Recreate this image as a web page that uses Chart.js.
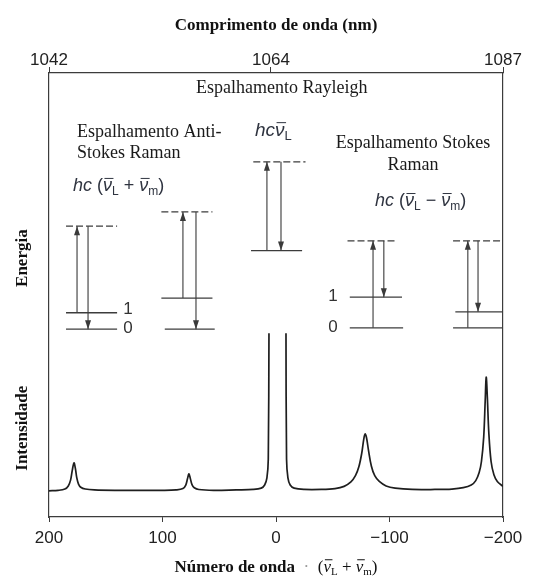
<!DOCTYPE html>
<html>
<head>
<meta charset="utf-8">
<script src="https://cdn.jsdelivr.net/npm/chart.js@4.4.1/dist/chart.umd.min.js"></script>
<style>
  body { margin: 0; background: #fff; }
  #wrap { width: 534px; height: 576px; }
</style>
</head>
<body>
<div id="wrap"><canvas id="ramanChart" width="534" height="576"></canvas></div>
<script>
// tick labels
const waveNumberTicks = [200, 100, 0, -100, -200];
const wavelengthTicks = [1042, 1064, 1087];

// spectrum (wavenumber shift, intensity) - null breaks the clipped Rayleigh line
const specX = [200, 192, 186, 183, 181, 179.5, 178, 176.8, 175.5, 174, 172, 168, 160, 140, 120,
  100, 88, 82, 79.5, 78, 76.8, 75.6, 74, 72, 68, 55, 35, 20, 13, 10, 8, 6.8, 6.2,
  0,
  -8.8, -9.3, -10.5, -12.5, -16, -25, -40, -52, -60, -66, -70, -73, -75.5, -77.3, -78.5,
  -79.8, -81.5, -84, -87, -91, -97, -105, -120, -140, -155, -165, -172, -176, -179, -181,
  -183, -184.3, -185.2, -186.2, -187.5, -189.5, -192, -195, -200];
const specY = [5.9, 6.0, 6.3, 7.0, 8.3, 10.5, 12.2, 11.0, 8.8, 7.4, 6.7, 6.3, 6.1, 6.0, 6.0,
  6.0, 6.1, 6.4, 7.2, 8.6, 9.7, 8.8, 7.3, 6.6, 6.2, 6.0, 6.1, 6.2, 6.5, 7.2, 8.8, 13, 41.4,
  null,
  41.4, 13, 8.8, 7.2, 6.5, 6.2, 6.2, 6.4, 6.9, 7.9, 9.3, 11.3, 14.3, 17.5, 18.7,
  17.8, 15, 11.5, 9.3, 8.0, 7.0, 6.5, 6.2, 6.2, 6.3, 6.6, 7.2, 8.2, 10, 12.5,
  18, 26, 31.5, 27, 19, 12.5, 9.5, 8, 6.9];

// energy diagram: levels [xFrom, xTo, energy]
const realLevels = [
  [185, 140, 46], [185, 140, 42.3],
  [101, 56, 49.3], [98, 54, 42.3],
  [22, -23, 60],
  [-65, -111, 49.5], [-65, -112, 42.6],
  [-158, -200, 46.2], [-156, -200, 42.6]
];
const virtualLevels = [
  [185, 140, 65.5], [101, 56, 68.7], [20, -26, 80], [-63, -107, 62.2], [-156, -200, 62.2]
];
// arrows [x, energyFrom, energyTo]
const upArrows = [
  [175.3, 46, 65.5], [82, 49.3, 68.7], [8, 60, 80], [-85.5, 42.6, 62.2], [-169, 42.6, 62.2]
];
const downArrows = [
  [165.6, 65.5, 42.3], [70.5, 68.7, 42.3], [-4.4, 80, 60], [-95, 62.2, 49.5], [-178, 62.2, 46.2]
];

const SERIF = '"Liberation Serif", "Times New Roman", serif';
const SANS = '"Liberation Sans", Arial, sans-serif';
const LINE = '#3c3c3c';

// build datasets
const datasets = [];
datasets.push({
  data: specX.map((x, i) => ({ x: x, y: specY[i] })),
  borderColor: '#1e1e1e', borderWidth: 1.7, pointRadius: 0, tension: 0.35, spanGaps: false
});
realLevels.forEach(l => datasets.push({
  data: [{ x: l[0], y: l[2] }, { x: l[1], y: l[2] }],
  borderColor: LINE, borderWidth: 1.3, pointRadius: 0
}));
virtualLevels.forEach(l => datasets.push({
  data: [{ x: l[0], y: l[2] }, { x: l[1], y: l[2] }],
  borderColor: LINE, borderWidth: 1.3, pointRadius: 0, borderDash: [7, 3]
}));
upArrows.concat(downArrows).forEach(a => datasets.push({
  data: [{ x: a[0], y: a[1] }, { x: a[0], y: a[2] }],
  borderColor: '#4a4a4a', borderWidth: 1.2, pointRadius: 0, arrowHead: true
}));

// text drawn with mixed styles (overbar, subscript)
function richText(ctx, parts, x, y, size, color, family, dry) {
  let cx = x;
  ctx.textAlign = 'left';
  ctx.textBaseline = 'alphabetic';
  parts.forEach(([t, k]) => {
    let font = `${size}px ${family}`, dy = 0;
    if (k === 'sub') { font = `${Math.round(size * 0.66)}px ${family}`; dy = size * 0.2; }
    else if (k === 'i' || k === 'bar') font = `italic ${size}px ${family}`;
    else if (k === 'b') font = `bold ${size}px ${family}`;
    ctx.font = font;
    const w = ctx.measureText(t).width;
    if (!dry) {
      ctx.fillStyle = k === 'dot' ? '#999' : color;
      ctx.strokeStyle = color;
      ctx.fillText(t, cx, y + dy);
      if (k === 'bar') {
        ctx.lineWidth = 1;
        ctx.beginPath();
        ctx.moveTo(cx + 1.5, y - size * 0.72);
        ctx.lineTo(cx + w + 1.5, y - size * 0.72);
        ctx.stroke();
      }
    }
    cx += w;
  });
  return cx - x;
}

const notePlugin = {
  id: 'notes',
  afterDatasetsDraw(chart) {
    const ctx = chart.ctx;
    const xs = chart.scales.x, ys = chart.scales.y;
    const area = chart.chartArea;
    const px = v => xs.getPixelForValue(v);
    const py = v => ys.getPixelForValue(v);
    ctx.save();

    // arrow heads
    chart.data.datasets.forEach((ds, i) => {
      if (!ds.arrowHead) return;
      const pts = chart.getDatasetMeta(i).data;
      const a = pts[0], b = pts[1];
      const dir = b.y < a.y ? 1 : -1;
      ctx.fillStyle = '#3a3a3a';
      ctx.beginPath();
      ctx.moveTo(b.x, b.y);
      ctx.lineTo(b.x - 3, b.y + dir * 9);
      ctx.lineTo(b.x + 3, b.y + dir * 9);
      ctx.closePath();
      ctx.fill();
    });

    // serif captions
    ctx.fillStyle = '#1a1a1a';
    ctx.font = `18px ${SERIF}`;
    ctx.textBaseline = 'middle';
    [['Espalhamento Rayleigh', -5, 96.6, 'center'],
     ['Espalhamento Anti-', 175.3, 86.7, 'left'],
     ['Stokes Raman', 175.3, 82.0, 'left'],
     ['Espalhamento Stokes', -120.7, 84.2, 'center'],
     ['Raman', -120.7, 79.3, 'center']].forEach(([t, x, y, al]) => {
      ctx.textAlign = al;
      ctx.fillText(t, px(x), py(y));
    });

    // vibrational level numbers
    ctx.fillStyle = '#333';
    ctx.font = `17px ${SANS}`;
    ctx.textAlign = 'center';
    [['1', 130.4, 46.8], ['0', 130.4, 42.6], ['1', -50.2, 49.8], ['0', -50.2, 42.8]]
      .forEach(([t, x, y]) => ctx.fillText(t, px(x), py(y)));

    // photon energies
    const fc = '#2f3440';
    richText(ctx, [['hc ', 'i'], ['(', 'n'], ['\u03bd', 'bar'], ['L', 'sub'], [' + ', 'n'],
      ['\u03bd', 'bar'], ['m', 'sub'], [')', 'n']], px(178.9), py(74.8) + 6.5, 18, fc, SANS);
    richText(ctx, [['hc ', 'i'], ['(', 'n'], ['\u03bd', 'bar'], ['L', 'sub'], [' \u2212 ', 'n'],
      ['\u03bd', 'bar'], ['m', 'sub'], [')', 'n']], px(-87.2), py(71.4) + 6.5, 18, fc, SANS);
    richText(ctx, [['hc', 'i'], ['\u03bd', 'bar'], ['L', 'sub']], px(18.5), py(87.2) + 6.5, 19, fc, SANS);

    // y-axis captions
    ctx.fillStyle = '#111';
    ctx.font = `bold 17px ${SERIF}`;
    ctx.textAlign = 'center';
    ctx.textBaseline = 'middle';
    [['Energia', 58.3], ['Intensidade', 20.0]].forEach(([t, y]) => {
      ctx.save();
      ctx.translate(area.left - 26, py(y));
      ctx.rotate(-Math.PI / 2);
      ctx.fillText(t, 0, 0);
      ctx.restore();
    });

    // bottom axis caption
    const parts = [['N\u00famero de onda', 'b'], ['  \u00b7  ', 'dot'], ['(', 'n'], ['\u03bd', 'bar'],
      ['L', 'sub'], [' + ', 'n'], ['\u03bd', 'bar'], ['m', 'sub'], [')', 'n']];
    const w = richText(ctx, parts, 0, 0, 17, '#111', SERIF, true);
    richText(ctx, parts, (area.left + area.right) / 2 - w / 2, area.bottom + 55, 17, '#111', SERIF);
    ctx.restore();
  }
};

const tickFont = { family: SANS, size: 17 };

new Chart(document.getElementById('ramanChart'), {
  type: 'line',
  data: { datasets: datasets },
  options: {
    responsive: false,
    animation: false,
    layout: { padding: 0 },
    plugins: { legend: { display: false }, tooltip: { enabled: false } },
    scales: {
      x: {
        type: 'linear', position: 'bottom', min: -200, max: 200, reverse: true,
        afterBuildTicks: s => { s.ticks = waveNumberTicks.map(v => ({ value: v })); },
        afterFit: s => { s.height = 59; },
        ticks: { font: tickFont, color: '#222', padding: 6, autoSkip: false, maxRotation: 0,
          callback: v => v < 0 ? '\u2212' + Math.abs(v) : String(v) },
        grid: { drawOnChartArea: false, tickLength: 5, color: LINE },
        border: { color: LINE, width: 1.2 }
      },
      x2: {
        type: 'linear', position: 'top', min: 1042, max: 1087,
        afterBuildTicks: s => { s.ticks = wavelengthTicks.map(v => ({ value: v })); },
        afterFit: s => { s.height = 73; },
        ticks: { font: tickFont, color: '#222', padding: -4, autoSkip: false, maxRotation: 0,
          callback: v => String(v) },
        grid: { drawOnChartArea: false, tickLength: 6, color: LINE },
        border: { color: LINE, width: 1.2 },
        title: { display: true, text: 'Comprimento de onda (nm)', color: '#111',
          font: { family: SERIF, size: 17, weight: 'bold' }, padding: { top: 15, bottom: 0 } }
      },
      y: {
        type: 'linear', position: 'left', min: 0, max: 100,
        afterFit: s => { s.width = 49; },
        ticks: { display: false },
        grid: { display: false },
        border: { color: LINE, width: 1.2 }
      },
      yR: {
        type: 'linear', position: 'right', min: 0, max: 100,
        afterFit: s => { s.width = 31; },
        ticks: { display: false },
        grid: { display: false },
        border: { color: LINE, width: 1.2 }
      }
    }
  },
  plugins: [notePlugin]
});
</script>
</body>
</html>
